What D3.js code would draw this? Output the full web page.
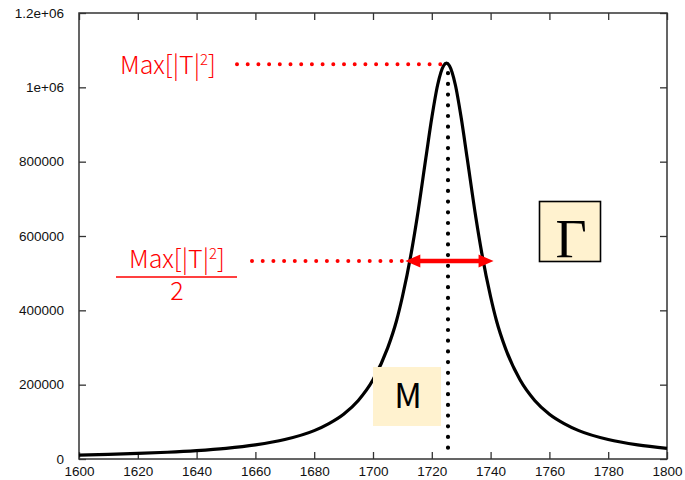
<!DOCTYPE html>
<html>
<head>
<meta charset="utf-8">
<script src="https://cdn.jsdelivr.net/npm/d3@7"></script>
<style>
  html, body { margin: 0; padding: 0; background: #fff; }
  svg { display: block; }
</style>
</head>
<body>
<div id="chart"></div>
<script>
// Transmission spectrum |T|^2 versus frequency, around a single resonance
const freq = [1600, 1610, 1620, 1630, 1640, 1650, 1660, 1670, 1680, 1685, 1690, 1695, 1700, 1705, 1708, 1710, 1713, 1715, 1718, 1720, 1722, 1724, 1725,
              1726, 1728, 1730, 1732, 1735, 1737, 1740, 1742, 1745, 1750, 1755, 1760, 1765, 1770, 1780, 1790, 1800];
const power = [10500, 12400, 14900, 18100, 22500, 28700, 38000, 52300, 76300, 95300, 120500, 157500, 213000, 299000, 372000, 436500, 554000, 649000, 811000, 918000, 1007000, 1058000, 1065000,
               1058000, 1007000, 918000, 811000, 649000, 554000, 436500, 372000, 299000, 213000, 157500, 120500, 95300, 76300, 52300, 38000, 28800];

const xTicks = [1600, 1620, 1640, 1660, 1680, 1700, 1720, 1740, 1760, 1780, 1800];
const yTicks = [0, 200000, 400000, 600000, 800000, 1000000, 1200000];
const yTickLabels = ["0", "200000", "400000", "600000", "800000", "1e+06", "1.2e+06"];

// Resonance annotations (data units)
const peakFreq = [1725];
const peakValue = [1065000];
const widthEnds = [1711, 1741];

const W = 685, H = 480;
const margin = { top: 13, right: 18, bottom: 21, left: 79 };

const svg = d3.select("#chart").append("svg")
  .attr("width", W).attr("height", H);

const x = d3.scaleLinear().domain([1600, 1800]).range([margin.left, W - margin.right]);
const y = d3.scaleLinear().domain([0, 1200000]).range([H - margin.bottom, margin.top]);

const axisFont = "'Liberation Sans', Arial, sans-serif";
const frameColor = "#333";

// Axes with inward ticks on all four sides
function styleAxis(g) {
  g.select(".domain").remove();
  g.selectAll(".tick line").attr("stroke", frameColor).attr("stroke-width", 1.3);
  g.selectAll(".tick text").attr("font-family", axisFont).attr("font-size", 13.5).attr("fill", "#111");
}
svg.append("g")
  .attr("transform", `translate(0,${H - margin.bottom})`)
  .call(d3.axisBottom(x).tickValues(xTicks).tickFormat(d3.format("d")).tickSizeInner(-7).tickSizeOuter(0).tickPadding(7))
  .call(styleAxis);
svg.append("g")
  .attr("transform", `translate(0,${margin.top})`)
  .call(d3.axisTop(x).tickValues(xTicks).tickFormat("").tickSizeInner(-7).tickSizeOuter(0))
  .call(styleAxis);
svg.append("g")
  .attr("transform", `translate(${margin.left},0)`)
  .call(d3.axisLeft(y).tickValues(yTicks).tickFormat((d, i) => yTickLabels[i]).tickSizeInner(-7).tickSizeOuter(0).tickPadding(15))
  .call(styleAxis);
svg.append("g")
  .attr("transform", `translate(${W - margin.right},0)`)
  .call(d3.axisRight(y).tickValues(yTicks).tickFormat("").tickSizeInner(-7).tickSizeOuter(0))
  .call(styleAxis);

// Plot frame
svg.append("rect")
  .attr("x", margin.left).attr("y", margin.top)
  .attr("width", W - margin.left - margin.right)
  .attr("height", H - margin.top - margin.bottom)
  .attr("fill", "none").attr("stroke", frameColor).attr("stroke-width", 1.5);

// Spectrum curve
const line = d3.line().x((d, i) => x(freq[i])).y(d => y(d)).curve(d3.curveMonotoneX);
svg.append("path")
  .datum(power)
  .attr("d", line)
  .attr("fill", "none")
  .attr("stroke", "#000")
  .attr("stroke-width", 3.2)
  .attr("stroke-linejoin", "round");

// Vertical dotted line at the resonance frequency
svg.append("line")
  .attr("x1", x(peakFreq[0]) + 1.5).attr("x2", x(peakFreq[0]) + 1.5)
  .attr("y1", y(peakValue[0]) + 10).attr("y2", y(0) - 10)
  .attr("stroke", "#000").attr("stroke-width", 4.2)
  .attr("stroke-linecap", "round").attr("stroke-dasharray", "0 10.7");

// Red dotted guide at the maximum
const red = "#ff0000";
svg.append("line")
  .attr("x1", 237).attr("x2", x(peakFreq[0]))
  .attr("y1", y(peakValue[0]) + 1).attr("y2", y(peakValue[0]) + 1)
  .attr("stroke", red).attr("stroke-width", 4)
  .attr("stroke-linecap", "round").attr("stroke-dasharray", "0 10.7");

// Red dotted guide at half maximum
const halfY = y(peakValue[0] / 2);
svg.append("line")
  .attr("x1", 252).attr("x2", x(widthEnds[0]))
  .attr("y1", halfY).attr("y2", halfY)
  .attr("stroke", red).attr("stroke-width", 4)
  .attr("stroke-linecap", "round").attr("stroke-dasharray", "0 10.7");

// Double-headed arrow across the full width at half maximum
const xa = x(widthEnds[0]), xb = x(widthEnds[1]);
const headL = 15, headH = 6.5;
svg.append("line")
  .attr("x1", xa + headL - 2).attr("x2", xb - headL + 2)
  .attr("y1", halfY).attr("y2", halfY)
  .attr("stroke", red).attr("stroke-width", 4.5);
svg.append("path")
  .attr("d", `M${xa},${halfY} L${xa + headL},${halfY - headH} L${xa + headL},${halfY + headH} Z`)
  .attr("fill", red);
svg.append("path")
  .attr("d", `M${xb},${halfY} L${xb - headL},${halfY - headH} L${xb - headL},${halfY + headH} Z`)
  .attr("fill", red);

// Labels for the maximum and the half maximum
const labelFont = "'Noto Sans CJK SC', 'Noto Sans', sans-serif";
function maxLabel(sel) {
  sel.append("tspan").text("Max[|T|");
  sel.append("tspan").attr("dy", -9).attr("font-size", 15).text("2");
  sel.append("tspan").attr("dy", 9).text("]");
}
svg.append("text")
  .attr("x", 120).attr("y", 74)
  .attr("font-family", labelFont).attr("font-size", 25).attr("font-weight", 300)
  .attr("fill", red)
  .call(maxLabel);

svg.append("text")
  .attr("x", 177).attr("y", 268).attr("text-anchor", "middle")
  .attr("font-family", labelFont).attr("font-size", 25).attr("font-weight", 300)
  .attr("fill", red)
  .call(maxLabel);
svg.append("line")
  .attr("x1", 116).attr("x2", 237)
  .attr("y1", 277).attr("y2", 277)
  .attr("stroke", red).attr("stroke-width", 1.6);
svg.append("text")
  .attr("x", 177).attr("y", 300).attr("text-anchor", "middle")
  .attr("font-family", labelFont).attr("font-size", 25).attr("font-weight", 300)
  .attr("fill", red)
  .text("2");

// Boxes naming the resonance frequency and the width
const boxFill = "#fff2cf";
svg.append("rect")
  .attr("x", 373).attr("y", 367).attr("width", 68).attr("height", 59)
  .attr("fill", boxFill);
svg.append("text")
  .attr("x", 408).attr("y", 408).attr("text-anchor", "middle")
  .attr("font-family", "'Noto Sans CJK SC', 'Noto Sans', sans-serif").attr("font-size", 34)
  .attr("fill", "#000")
  .text("M");

svg.append("rect")
  .attr("x", 539.5).attr("y", 201.5).attr("width", 61).attr("height", 60)
  .attr("fill", boxFill).attr("stroke", "#000").attr("stroke-width", 1.6);
svg.append("text")
  .attr("x", 571).attr("y", 257).attr("text-anchor", "middle")
  .attr("font-family", "'Liberation Serif', 'Times New Roman', serif").attr("font-size", 54)
  .attr("fill", "#000")
  .text("Γ");
</script>
</body>
</html>
